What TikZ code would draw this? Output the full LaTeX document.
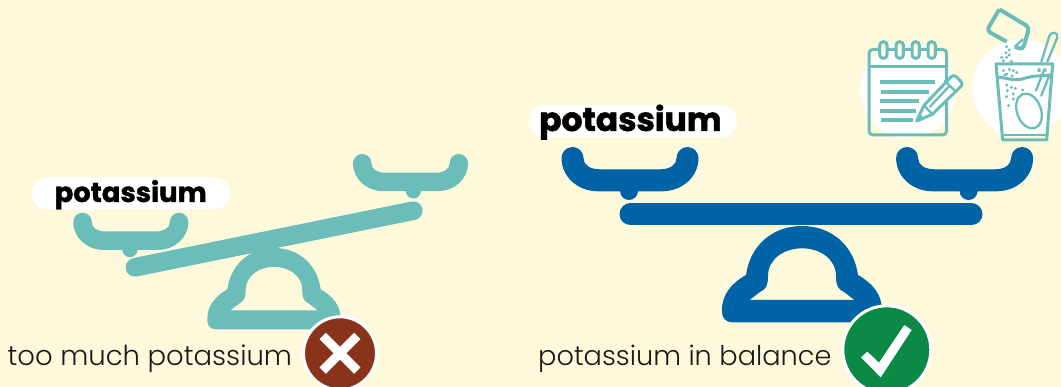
\documentclass[tikz,border=0pt]{standalone}
\usepackage{fontspec}
\setmainfont{Poppins}
\newfontfamily\boldlabel[FakeBold=1.5]{Poppins Bold}
\newfontfamily\captionf{Poppins Light}
\definecolor{bgcream}{HTML}{FFF9DB}
\definecolor{tealc}{HTML}{6ABDB9}
\definecolor{bluec}{HTML}{0063A5}
\definecolor{crossred}{HTML}{8A331B}
\definecolor{checkgreen}{HTML}{0A8A45}
\tikzset{
  pill/.style={fill=white,rounded corners=16pt},
  potlabel/.style={anchor=base west,inner sep=0pt,text=black},
  captiontext/.style={anchor=base west,inner sep=0pt,text=black!90},
  badge/.style={draw=white,line width=3pt},
  ico/.style={draw=tealc,line width=3pt,line join=round,line cap=round},
  icofine/.style={draw=tealc,line width=2.3pt,line join=round,line cap=round},
  txtline/.style={draw=tealc,line width=4pt},
  powder/.style={fill=tealc}
}
\newcommand{\scalepan}[5]{% x,y,scale,colour,stem offset
  \begin{scope}[shift={(#1,#2)},scale=#3]
    \fill[#4] (-68.5,11) arc (180:360:11)
      .. controls (-46.5,18) and (-40,22.3) .. (-30,22.3) -- (30,22.3)
      .. controls (40,22.3) and (46.5,18) .. (46.5,11) arc (180:360:11)
      .. controls (68.5,30) and (52,44.3) .. (32,44.3) -- (-32,44.3)
      .. controls (-52,44.3) and (-68.5,30) .. cycle;
    \fill[#4] (#5,44) circle (9);
  \end{scope}}
\newcommand{\scalebase}[5]{% x,y,xscale,yscale,colour
  \begin{scope}[shift={(#1,#2)},xscale=#3,yscale=#4]
    \fill[#5,even odd rule] (-80,84) .. controls (-80,68) and (-70,57) .. (-56,49)
      .. controls (-52,20) and (-30,0) .. (0,0)
      .. controls (30,0) and (52,20) .. (56,49)
      .. controls (70,57) and (80,68) .. (80,84)
      -- (80,86) .. controls (80,92) and (76,96.3) .. (70,96.3) -- (-70,96.3)
      .. controls (-76,96.3) and (-80,92) .. (-80,86) -- cycle
      (-34,50) .. controls (-34,33) and (-18,22.3) .. (0,22.3)
      .. controls (18,22.3) and (34,33) .. (34,50)
      .. controls (34,60) and (36,63) .. (42,66) -- (52.5,74) -- (-52.5,74) -- (-42,66)
      .. controls (-36,63) and (-34,60) .. (-34,50) -- cycle;
  \end{scope}}
\begin{document}
\begin{tikzpicture}[x=1pt,y=-1pt]
\useasboundingbox (0,0) rectangle (1061,387);
\clip (0,0) rectangle (1061,387);
\fill[bgcream] (0,0) rectangle (1061,387);

% left scale
\draw[tealc,line width=18.7pt,line cap=round] (135,267.3) -- (413.3,210.7);
\scalepan{130.8}{212.7}{0.84}{tealc}{-1}
\scalepan{410.5}{154}{0.84}{tealc}{3.4}
\scalebase{274}{248}{0.834}{0.844}{tealc}
\fill[pill] (32,177.3) rectangle (230,209.3);
\node[potlabel] (leftlabel) at (54.5,202) {\fontsize{27.4}{27.4}\boldlabel potassium};
\node[captiontext] (leftcaption) at (7.5,366) {\fontsize{27.5}{27.5}\captionf too much potassium};
\fill[crossred,badge] (340,353.3) circle (36.5);
\draw[white,line width=9pt] (322.7,336) -- (357.3,370.6) (357.3,336) -- (322.7,370.6);

% right scale
\draw[bluec,line width=22pt,line cap=round] (630.5,214.3) -- (971.5,214.3);
\scalepan{630}{147}{1}{bluec}{-1}
\scalepan{964.6}{147}{1}{bluec}{4}
\scalebase{802}{226}{1}{1}{bluec}
\fill[pill] (529,105) rectangle (737,137.3);
\node[potlabel] (rightlabel) at (539,131) {\fontsize{32.9}{32.9}\boldlabel potassium};
\node[captiontext] (rightcaption) at (538,366) {\fontsize{27.2}{27.2}\captionf potassium in balance};
\fill[checkgreen,badge] (886.8,349.8) circle (44);
\fill[white] (861,357.3) -- (867.3,351.7) -- (879,362.7) -- (904.3,325) -- (911.7,330) -- (880.7,377.3) -- cycle;

% icons
\begin{scope}[shift={(850,0)},x=0.33333pt,y=-0.33333pt]
  \fill[white] (175,270) circle (144);
  \fill[white] (513,264) circle (146);
  % notebook
  \draw[ico,rounded corners=4pt] (57,148) rectangle (290,405);
  \draw[ico] (57,200) -- (290,200);
  \foreach \rx in {100,149,197,245}
    \draw[ico,fill=bgcream,rounded corners=3.5pt] (\rx-11,125) rectangle (\rx+11,175);
  \draw[txtline,line cap=butt] (90,245) -- (255,245) (93,275) -- (237,275) (90,303) -- (207,303) (90,332) -- (198,332) (93,360) -- (188,360);
  % pencil
  \draw[ico,fill=white] (200,363) -- (222,316) -- (302,232) .. controls (309,225) and (315,226) .. (320,231) -- (333,245) .. controls (338,250) and (337,255) .. (333,259) -- (247,343) -- cycle;
  \draw[icofine] (222,316) -- (247,343) (285,243) -- (318,276) (240,320) -- (298,258);
  \fill[tealc] (200,363) -- (207,340) -- (222,354) -- cycle;
  % packet
  \draw[line width=4pt,draw=tealc,rounded corners=4pt,line join=round] (448,28) -- (538,82) -- (518,150) -- (495,140) (470,125) -- (410,92) -- (448,28);
  \draw[icofine] (495,140) -- (518,118);
  % spoon
  \draw[icofine] (574,185) -- (598,108) .. controls (603,94) and (625,95) .. (622,112) -- (592,185);
  \draw[icofine] (582,210) -- (558,272) (598,226) -- (574,287);
  \draw[icofine,rotate around={20:(537,333)}] (537,333) ellipse (36 and 54);
  % glass
  \draw[ico] (438,192) -- (608,192) -- (590,420) -- (458,420) -- cycle;
  \draw[icofine] (457,405) -- (590,405);
  \draw[ico] (441,232) .. controls (470,232) and (490,245) .. (520,236) .. controls (550,226) and (575,228) .. (603,225);
  \fill[tealc] (563,205) rectangle (572,216) (580,205) rectangle (589,216);
  % powder
  \foreach \px/\py in {470/140, 478/150, 468/158, 478/165, 455/172, 470/172, 460/182, 484/184,
     460/212, 478/208, 490/212, 470/222, 486/228, 500/218, 464/225,
     470/255, 484/262, 496/265, 472/272, 518/270, 470/290, 490/282, 490/297, 476/317}
    \fill[powder] (\px,\py) circle (1.6pt);
\end{scope}
\end{tikzpicture}
\end{document}
